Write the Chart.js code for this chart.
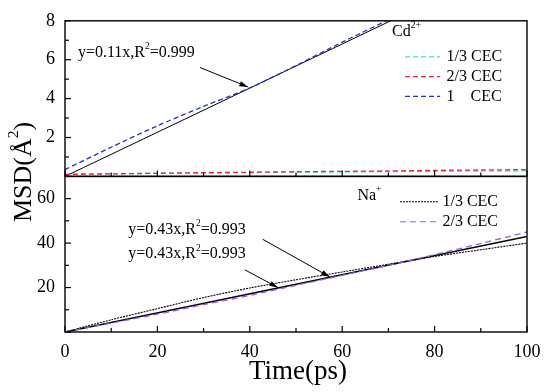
<!DOCTYPE html>
<html>
<head>
<meta charset="utf-8">
<script src="https://cdn.jsdelivr.net/npm/chart.js@4/dist/chart.umd.min.js"></script>
<style>
  html, body { margin: 0; padding: 0; background: #fff; }
  #caja { width: 550px; height: 392px; }
</style>
</head>
<body>
<div id="caja"><canvas id="grafico"></canvas></div>
<script>
// tiempo (ps)
const tiempo   = [0, 10, 20, 30, 40, 50, 60, 70, 80, 90, 100];
const tiempoCd = [0, 10, 20, 30, 40, 50, 60, 70];

// panel superior: Cd2+
const cd13 = [0.12, 0.14, 0.16, 0.18, 0.20, 0.22, 0.23, 0.25, 0.26, 0.27, 0.28];
const cd23 = [0.10, 0.13, 0.16, 0.19, 0.21, 0.24, 0.26, 0.28, 0.31, 0.33, 0.35];
const cd1  = [0.35, 1.50, 2.60, 3.60, 4.55, 5.70, 6.90, 8.05];
const ajusteCdT = [0, 70.5];
const ajusteCd  = [0, 8.0];

// panel inferior: Na+
const na13 = [0, 5.5, 10.5, 15.5, 19.8, 23.5, 27.0, 30.5, 34.0, 37.0, 40.0];
const na23 = [0, 4.0, 8.0, 12.3, 16.5, 21.0, 25.5, 30.0, 34.8, 39.8, 45.0];
const ajusteNaT = [0, 100];
const ajusteNa  = [0, 43];

const puntos = (xs, ys) => xs.map((x, i) => ({ x, y: ys[i] }));

const fuente = '"Liberation Serif", "Times New Roman", serif';

function linea(ctx, x1, y1, x2, y2) {
  ctx.beginPath(); ctx.moveTo(x1, y1); ctx.lineTo(x2, y2); ctx.stroke();
}

function flecha(ctx, x1, y1, x2, y2) {
  linea(ctx, x1, y1, x2, y2);
  const ang = Math.atan2(y2 - y1, x2 - x1);
  ctx.beginPath();
  ctx.moveTo(x2, y2);
  ctx.lineTo(x2 - 9 * Math.cos(ang - 0.3), y2 - 9 * Math.sin(ang - 0.3));
  ctx.lineTo(x2 - 9 * Math.cos(ang + 0.3), y2 - 9 * Math.sin(ang + 0.3));
  ctx.closePath(); ctx.fill();
}

// texto con superindices: partes = [[texto, esSup], ...]
function textoSup(ctx, partes, x, y, tam) {
  let cx = x;
  partes.forEach(([t, sup]) => {
    ctx.font = (sup ? tam * 0.6 : tam) + 'px ' + fuente;
    ctx.fillText(t, cx, sup ? y - tam * 0.38 : y);
    cx += ctx.measureText(t).width;
  });
  return cx - x;
}

const marcoPlugin = {
  id: 'marco',
  afterDatasetsDraw(chart) {
    const { ctx, chartArea: a, scales } = chart;
    const x = scales.x, yS = scales.ySup, yI = scales.yInf;
    ctx.save();
    ctx.strokeStyle = '#000'; ctx.fillStyle = '#000';
    ctx.lineWidth = 1.4;
    [yS, yI].forEach(y => ctx.strokeRect(a.left, y.top, a.right - a.left, y.bottom - y.top));

    ctx.lineWidth = 1.2;
    x.ticks.forEach(t => {
      const px = x.getPixelForValue(t.value);
      const largo = t.value % 20 === 0 ? 6 : 4;
      [yS.bottom, yI.bottom].forEach(by => linea(ctx, px, by, px, by - largo));
    });
    [[yS, 2], [yI, 20]].forEach(([y, mayor]) => y.ticks.forEach(t => {
      const py = y.getPixelForValue(t.value);
      const largo = t.value % mayor === 0 ? 6 : 4;
      linea(ctx, a.left, py, a.left + largo, py);
    }));

    ctx.textBaseline = 'middle';
    ctx.textAlign = 'left';

    // anotaciones
    ctx.lineWidth = 1;
    textoSup(ctx, [['y=0.11x,R', 0], ['2', 1], ['=0.999', 0]],
      x.getPixelForValue(2.8), yS.getPixelForValue(6.35), 16);
    flecha(ctx, x.getPixelForValue(29.2), yS.getPixelForValue(5.6),
      x.getPixelForValue(39.6), yS.getPixelForValue(4.6));

    textoSup(ctx, [['y=0.43x,R', 0], ['2', 1], ['=0.993', 0]],
      x.getPixelForValue(13.7), yI.getPixelForValue(46), 16);
    textoSup(ctx, [['y=0.43x,R', 0], ['2', 1], ['=0.993', 0]],
      x.getPixelForValue(13.7), yI.getPixelForValue(35), 16);
    flecha(ctx, x.getPixelForValue(42.8), yI.getPixelForValue(41.7),
      x.getPixelForValue(57.3), yI.getPixelForValue(24.8));
    flecha(ctx, x.getPixelForValue(38.9), yI.getPixelForValue(28),
      x.getPixelForValue(46.1), yI.getPixelForValue(20));

    // leyendas
    textoSup(ctx, [['Cd', 0], ['2+', 1]], x.getPixelForValue(70.8), yS.getPixelForValue(7.45), 16);
    const leyCd = [['1/3 CEC', '#30ecd6'], ['2/3 CEC', '#ee2443'], ['1    CEC', '#2331c4']];
    leyCd.forEach(([t, c], i) => {
      const py = yS.getPixelForValue(6.15 - i * 1.02);
      ctx.strokeStyle = c; ctx.lineWidth = 1.3; ctx.setLineDash([5, 3]);
      linea(ctx, x.getPixelForValue(73.6), py, x.getPixelForValue(81.2), py);
      ctx.setLineDash([]);
      ctx.font = '16px ' + fuente;
      ctx.fillText(t, x.getPixelForValue(82.6), py);
    });
    textoSup(ctx, [['Na', 0], ['+', 1]], x.getPixelForValue(63.3), yI.getPixelForValue(61.2), 16);
    const leyNa = [['1/3 CEC', '#000', [2, 1]], ['2/3 CEC', '#9b5de6', [6, 4]]];
    leyNa.forEach(([t, c, d], i) => {
      const py = yI.getPixelForValue(58.6 - i * 9);
      ctx.strokeStyle = c; ctx.lineWidth = 1.1; ctx.setLineDash(d);
      linea(ctx, x.getPixelForValue(72.5), py, x.getPixelForValue(80.8), py);
      ctx.setLineDash([]);
      ctx.font = '16px ' + fuente;
      ctx.fillText(t, x.getPixelForValue(81.7), py);
    });

    // titulos de ejes
    ctx.textAlign = 'center';
    ctx.font = '27px ' + fuente;
    ctx.fillText('Time(ps)', 298, 372);
    ctx.translate(24, 172);
    ctx.rotate(-Math.PI / 2);
    ctx.textAlign = 'left';
    ctx.globalAlpha = 0;
    const ancho = textoSup(ctx, [['MSD(Å', 0], ['2', 1], [')', 0]], 0, 0, 26);
    ctx.globalAlpha = 1;
    textoSup(ctx, [['MSD(Å', 0], ['2', 1], [')', 0]], -ancho / 2, 0, 26);
    ctx.restore();
  }
};

const serie = (etiqueta, datos, color, eje, guiones, ancho) => ({
  label: etiqueta, data: datos, yAxisID: eje,
  borderColor: color, borderWidth: ancho || 1.3, borderDash: guiones || [],
  pointRadius: 0, fill: false, tension: 0.3
});

const ticksY = (mayor) => ({
  stepSize: mayor / 2, autoSkip: false, padding: 10,
  color: '#000', font: { family: fuente, size: 18 },
  callback: v => (v !== 0 && v % mayor === 0) ? v : ''
});

// el primer dataset se pinta encima
new Chart(document.getElementById('grafico'), {
  type: 'line',
  data: {
    datasets: [
      serie('Cd 2/3 CEC', puntos(tiempo, cd23), '#ee2443', 'ySup', [5, 3]),
      serie('Cd 1/3 CEC', puntos(tiempo, cd13), '#30ecd6', 'ySup', [5, 3]),
      serie('Cd 1 CEC', puntos(tiempoCd, cd1), '#2331c4', 'ySup', [5, 3]),
      serie('ajuste Cd', puntos(ajusteCdT, ajusteCd), '#000', 'ySup', [], 1),
      serie('Na 2/3 CEC', puntos(tiempo, na23), '#9b5de6', 'yInf', [6, 4]),
      serie('ajuste Na', puntos(ajusteNaT, ajusteNa), '#000', 'yInf', [], 1.6),
      serie('Na 1/3 CEC', puntos(tiempo, na13), '#000', 'yInf', [2, 1], 1.1)
    ]
  },
  options: {
    responsive: true,
    maintainAspectRatio: false,
    animation: false,
    layout: { padding: { top: 16, right: 23, left: 0, bottom: 0 } },
    plugins: { legend: { display: false }, tooltip: { enabled: false } },
    scales: {
      x: {
        type: 'linear', min: 0, max: 100,
        grid: { display: false, drawTicks: false }, border: { display: false },
        ticks: {
          stepSize: 10, autoSkip: false, padding: 9, maxRotation: 0,
          color: '#000', font: { family: fuente, size: 18 },
          callback: v => v % 20 === 0 ? v : ''
        },
        afterFit: s => { s.height = 60; }
      },
      yInf: {
        type: 'linear', position: 'left', stack: 'panel', stackWeight: 1,
        min: 0, max: 70,
        grid: { display: false, drawTicks: false }, border: { display: false },
        ticks: ticksY(20),
        afterFit: s => { s.width = 65; }
      },
      ySup: {
        type: 'linear', position: 'left', stack: 'panel', stackWeight: 1,
        min: 0, max: 8,
        grid: { display: false, drawTicks: false }, border: { display: false },
        ticks: ticksY(2),
        afterFit: s => { s.width = 65; }
      }
    }
  },
  plugins: [marcoPlugin]
});
</script>
</body>
</html>
